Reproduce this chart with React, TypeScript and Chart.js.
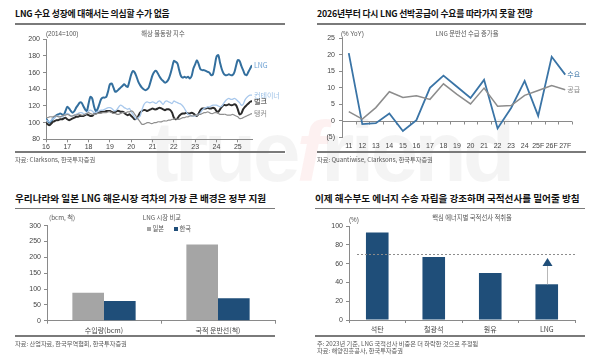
import React, { useEffect, useRef } from "react";
import { Chart, registerables } from "chart.js";
Chart.register(...registerables);

// ---------- Panel 1: 해상 물동량 지수 (monthly, Jan 2016 - Sep 2025) ----------
const YEAR_LABELS = ["16", "17", "18", "19", "20", "21", "22", "23", "24", "25"];
const LNG_IDX = [
  105, 102, 100, 102, 105, 107, 109, 110, 111, 110, 109, 114,
  119, 117, 114, 112, 114, 118, 121, 124, 124, 120, 116, 114,
  123, 131, 129, 120, 114, 116, 122, 128, 130, 130, 131, 138,
  146, 147, 142, 137, 138, 140, 142, 144, 146, 144, 143, 150,
  158, 162, 160, 155, 149, 145, 142, 140, 139, 140, 143, 150,
  157, 161, 162, 159, 155, 152, 150, 148, 149, 152, 158, 166,
  174, 173, 171, 163, 156, 154, 155, 154, 155, 153, 156, 165,
  170, 175, 170, 164, 163, 163, 162, 161, 160, 157, 158, 168,
  179, 181, 172, 164, 159, 157, 157, 158, 157, 157, 160, 168,
  175, 174, 168, 163, 158, 157, 161, 165, 169,
];
const CONTAINER_IDX = [
  103, 102, 101, 103, 105, 106, 108, 108, 107, 107, 108, 110,
  111, 110, 108, 108, 109, 110, 111, 112, 112, 111, 110, 112,
  114, 115, 114, 112, 112, 113, 114, 115, 115, 116, 117, 118,
  118, 117, 115, 114, 116, 119, 121, 120, 118, 117, 116, 117,
  113, 110, 106, 104, 106, 108, 115, 121, 124, 125, 124, 124,
  125, 124, 123, 125, 126, 124, 122, 125, 126, 125, 124, 123,
  126, 125, 124, 123, 122, 120, 117, 113, 110, 109, 108, 108,
  108, 109, 110, 112, 115, 117, 118, 119, 119, 120, 121, 121,
  121, 120, 119, 120, 123, 126, 128, 129, 128, 128, 129, 128,
  126, 124, 121, 122, 127, 130, 132, 133, 133,
];
const BULK_IDX = [
  100, 98, 97, 99, 101, 102, 103, 103, 104, 104, 105, 106,
  104, 103, 104, 105, 106, 107, 107, 108, 108, 108, 109, 110,
  109, 108, 108, 110, 111, 112, 113, 113, 113, 113, 114, 114,
  114, 113, 112, 113, 114, 114, 113, 113, 112, 110, 109, 110,
  108, 106, 104, 105, 108, 112, 114, 115, 115, 114, 115, 116,
  117, 116, 116, 117, 118, 117, 116, 115, 116, 116, 115, 112,
  106, 104, 105, 108, 110, 111, 111, 112, 111, 111, 112, 111,
  109, 108, 111, 115, 117, 117, 117, 118, 117, 117, 118, 117,
  114, 113, 116, 119, 121, 121, 121, 122, 121, 121, 122, 121,
  116, 110, 111, 116, 119, 121, 123, 125, 126,
];
const TANKER_IDX = [
  106, 106, 107, 107, 107, 108, 108, 107, 107, 108, 109, 109,
  110, 109, 108, 108, 109, 109, 110, 110, 109, 109, 110, 111,
  112, 111, 110, 110, 110, 111, 111, 111, 112, 112, 112, 113,
  113, 112, 111, 111, 110, 110, 111, 112, 112, 112, 113, 113,
  114, 113, 110, 107, 104, 101, 98, 98, 99, 100, 100, 99,
  99, 100, 100, 101, 101, 101, 102, 102, 102, 103, 103, 104,
  104, 105, 104, 104, 105, 106, 106, 107, 107, 108, 108, 108,
  109, 109, 110, 110, 111, 112, 112, 113, 112, 111, 111, 112,
  112, 111, 110, 110, 110, 110, 109, 109, 109, 110, 109, 108,
  107, 105, 105, 106, 107, 108, 109, 110, 111,
];
const SERIES1_NAMES = ["탱커", "컨테이너", "벌크", "LNG"];

// ---------- Panel 2: LNG 운반선 수급 증가율 ----------
const YEARS2 = ["11", "12", "13", "14", "15", "16", "17", "18", "19", "20", "21", "22", "23", "24", "25F", "26F", "27F"];
const DEMAND = [20.5, -1, -0.7, 2.2, -3.1, 0.2, 10, 13.7, 10.3, 6.9, 12.4, -2.3, 3.9, 12.1, 1.5, 19.4, 14];
const SUPPLY = [2.8, 0.5, 4, 8.8, 7.1, 7.6, 6.5, 11.2, 8, 5.1, 9.9, 4.4, 4.6, 7.7, 9.2, 10.7, 9.4];
const SERIES2_NAMES = ["수요", "공급"];

// ---------- Panel 3: LNG 시장 비교 ----------
const CATS3 = ["수입량(bcm)", "국적 운반선(척)"];
const JAPAN = [88, 241];
const KOREA = [62, 71];

// ---------- Panel 4: 핵심 에너지별 국적선사 적취율 ----------
const CATS4 = ["석탄", "철광석", "원유", "LNG"];
const SHARE = [93, 67, 50, 38];
const TARGET_LINE = 70;
const ARROW_TIP = 66;

const LATIN = "'Liberation Sans', 'Noto Sans CJK KR', sans-serif";
const KFONT = "'Noto Sans CJK KR', 'Liberation Sans', sans-serif";
const AXIS_GRAY = "#8a8a8a";
const TICK_COLOR = "#444";
const NAVY = "#1f4e79";

const endLabels = {
  id: "endLabels",
  afterDatasetsDraw(chart: any) {
    const ctx = chart.ctx;
    chart.data.datasets.forEach((ds: any, i: number) => {
      if (!ds.endLabel) return;
      const meta = chart.getDatasetMeta(i);
      const pt = meta.data[meta.data.length - 1];
      ctx.save();
      ctx.font = `7px ${KFONT}`;
      ctx.fillStyle = ds.endLabelColor;
      ctx.textBaseline = "middle";
      ctx.textAlign = "left";
      ctx.fillText(ds.endLabel, pt.x + (ds.endLabelDx || 2), pt.y + (ds.endLabelDy || 0));
      ctx.restore();
    });
  },
};

const zeroAxis = {
  id: "zeroAxis",
  beforeDatasetsDraw(chart: any) {
    const { ctx, chartArea, scales } = chart;
    const y0 = scales.y.getPixelForValue(0);
    const xs = scales.x;
    const n = chart.data.labels.length;
    const step = n > 1 ? xs.getPixelForValue(1) - xs.getPixelForValue(0) : 0;
    ctx.save();
    ctx.strokeStyle = AXIS_GRAY;
    ctx.lineWidth = 1;
    ctx.beginPath();
    ctx.moveTo(chartArea.left, Math.round(y0) + 0.5);
    ctx.lineTo(chartArea.right, Math.round(y0) + 0.5);
    for (let i = 0; i <= n; i++) {
      const x = Math.round(xs.getPixelForValue(0) - step / 2 + i * step) + 0.5;
      ctx.moveTo(x, Math.round(y0) + 0.5);
      ctx.lineTo(x, Math.round(y0) + 3.5);
    }
    ctx.stroke();
    ctx.restore();
  },
};

const targetMarks = {
  id: "targetMarks",
  afterDatasetsDraw(chart: any) {
    const { ctx, chartArea, scales } = chart;
    const y = scales.y;
    const x = scales.x;
    const yT = Math.round(y.getPixelForValue(TARGET_LINE)) + 0.5;
    ctx.save();
    ctx.strokeStyle = "#8c8c8c";
    ctx.lineWidth = 1;
    ctx.setLineDash([2, 2]);
    ctx.beginPath();
    ctx.moveTo(chartArea.left + 8, yT);
    ctx.lineTo(chartArea.right, yT);
    ctx.stroke();
    ctx.setLineDash([]);
    const last = SHARE.length - 1;
    const cx = Math.round(x.getPixelForValue(last)) + 0.5;
    const yBar = y.getPixelForValue(SHARE[last]);
    const yTip = y.getPixelForValue(ARROW_TIP);
    const headH = 8;
    ctx.strokeStyle = "#b8b8b8";
    ctx.beginPath();
    ctx.moveTo(cx, yBar);
    ctx.lineTo(cx, yTip + headH);
    ctx.stroke();
    ctx.fillStyle = NAVY;
    ctx.beginPath();
    ctx.moveTo(cx, yTip);
    ctx.lineTo(cx - 5, yTip + headH);
    ctx.lineTo(cx + 5, yTip + headH);
    ctx.closePath();
    ctx.fill();
    ctx.restore();
  },
};

function tickFont() {
  return { family: LATIN, size: 7 };
}

function makeChart1(): any {
  const mk = (vals: number[]) => vals.map((v, i) => ({ x: i, y: v }));
  const last = LNG_IDX.length - 1;
  return {
    type: "line",
    data: {
      datasets: [
        { label: SERIES1_NAMES[0], data: mk(TANKER_IDX), borderColor: "#8f8f8f", borderWidth: 1.2, endLabel: SERIES1_NAMES[0], endLabelColor: "#8a8a8a", endLabelDx: 2 },
        { label: SERIES1_NAMES[1], data: mk(CONTAINER_IDX), borderColor: "#a8c8ec", borderWidth: 1.3, endLabel: SERIES1_NAMES[1], endLabelColor: "#9cc0e6", endLabelDx: 2 },
        { label: SERIES1_NAMES[2], data: mk(BULK_IDX), borderColor: "#2b2b2b", borderWidth: 2, endLabel: SERIES1_NAMES[2], endLabelColor: "#222", endLabelDx: 2 },
        { label: SERIES1_NAMES[3], data: mk(LNG_IDX), borderColor: "#336f9e", borderWidth: 2, endLabel: SERIES1_NAMES[3], endLabelColor: "#6a9fd2", endLabelDx: 2 },
      ].map((d) => ({ ...d, pointRadius: 0, tension: 0.3, fill: false })),
    },
    options: {
      animation: false,
      responsive: false,
      devicePixelRatio: 1,
      layout: { padding: { top: 9.3, right: 33, left: 0, bottom: 0 } },
      plugins: { legend: { display: false }, tooltip: { enabled: false } },
      scales: {
        x: {
          type: "linear",
          min: 0,
          max: last,
          ticks: {
            stepSize: 12,
            includeBounds: false,
            autoSkip: false,
            maxRotation: 0,
            padding: 1,
            color: TICK_COLOR,
            font: tickFont(),
            callback: (v: number) => YEAR_LABELS[Math.round(v / 12)] ?? "",
          },
          grid: { drawOnChartArea: false, tickLength: 3, color: AXIS_GRAY },
          border: { color: AXIS_GRAY },
          afterFit: (s: any) => { s.height = 12.7; },
        },
        y: {
          min: 80,
          max: 200,
          ticks: { stepSize: 20, padding: 3, color: TICK_COLOR, font: tickFont() },
          grid: { drawOnChartArea: false, tickLength: 3, color: AXIS_GRAY },
          border: { color: AXIS_GRAY },
          afterFit: (s: any) => { s.width = 33; },
        },
      },
    },
    plugins: [endLabels],
  };
}

function makeChart2(): any {
  return {
    type: "line",
    data: {
      labels: YEARS2,
      datasets: [
        { label: SERIES2_NAMES[1], data: SUPPLY, borderColor: "#8c8c8c", borderWidth: 1.5, endLabel: SERIES2_NAMES[1], endLabelColor: "#8a8a8a", endLabelDx: 2 },
        { label: SERIES2_NAMES[0], data: DEMAND, borderColor: "#3a74a6", borderWidth: 1.8, endLabel: SERIES2_NAMES[0], endLabelColor: "#3a74a6", endLabelDx: 2 },
      ].map((d) => ({ ...d, pointRadius: 0, tension: 0, fill: false })),
    },
    options: {
      animation: false,
      responsive: false,
      devicePixelRatio: 1,
      layout: { padding: { top: 10.3, right: 13, left: 0, bottom: 0 } },
      plugins: { legend: { display: false }, tooltip: { enabled: false } },
      scales: {
        x: {
          offset: true,
          ticks: { autoSkip: false, maxRotation: 0, padding: 5, color: TICK_COLOR, font: tickFont() },
          grid: { display: false, drawTicks: false },
          border: { display: false },
          afterFit: (s: any) => { s.height = 14.7; },
        },
        y: {
          min: -5,
          max: 25,
          ticks: {
            stepSize: 5,
            padding: 4,
            color: TICK_COLOR,
            font: tickFont(),
            callback: (v: number) => (v < 0 ? `(${-v})` : `${v}`),
          },
          grid: { drawOnChartArea: false, tickLength: 3, color: AXIS_GRAY },
          border: { color: AXIS_GRAY },
          afterFit: (s: any) => { s.width = 29; },
        },
      },
    },
    plugins: [zeroAxis, endLabels],
  };
}

function makeChart3(): any {
  return {
    type: "bar",
    data: {
      labels: CATS3,
      datasets: [
        { label: "일본", data: JAPAN, backgroundColor: "#a5a5a5" },
        { label: "한국", data: KOREA, backgroundColor: NAVY },
      ].map((d) => ({ ...d, barPercentage: 1, categoryPercentage: 0.555, borderWidth: 0 })),
    },
    options: {
      animation: false,
      responsive: false,
      devicePixelRatio: 1,
      layout: { padding: { top: 15.7, right: 10, left: 0, bottom: 0 } },
      plugins: { legend: { display: false }, tooltip: { enabled: false } },
      scales: {
        x: {
          ticks: { autoSkip: false, maxRotation: 0, padding: 2, color: TICK_COLOR, font: { family: KFONT, size: 7 } },
          grid: { drawOnChartArea: false, tickLength: 3, color: AXIS_GRAY, offset: true },
          border: { color: AXIS_GRAY },
          afterFit: (s: any) => { s.height = 15.3; },
        },
        y: {
          min: 0,
          max: 300,
          ticks: { stepSize: 50, padding: 3, color: TICK_COLOR, font: tickFont() },
          grid: { drawOnChartArea: false, tickLength: 3, color: AXIS_GRAY },
          border: { color: AXIS_GRAY },
          afterFit: (s: any) => { s.width = 34; },
        },
      },
    },
  };
}

function makeChart4(): any {
  return {
    type: "bar",
    data: {
      labels: CATS4,
      datasets: [
        { label: "적취율", data: SHARE, backgroundColor: NAVY, barPercentage: 0.4, categoryPercentage: 1, borderWidth: 0 },
      ],
    },
    options: {
      animation: false,
      responsive: false,
      devicePixelRatio: 1,
      layout: { padding: { top: 16, right: 10, left: 0, bottom: 0 } },
      plugins: { legend: { display: false }, tooltip: { enabled: false } },
      scales: {
        x: {
          ticks: { autoSkip: false, maxRotation: 0, padding: 2, color: TICK_COLOR, font: { family: KFONT, size: 7 } },
          grid: { drawOnChartArea: false, tickLength: 3, color: AXIS_GRAY, offset: true },
          border: { color: AXIS_GRAY },
          afterFit: (s: any) => { s.height = 16; },
        },
        y: {
          min: 0,
          max: 100,
          ticks: { stepSize: 10, padding: 3, color: TICK_COLOR, font: tickFont() },
          grid: { drawOnChartArea: false, tickLength: 3, color: AXIS_GRAY },
          border: { color: AXIS_GRAY },
          afterFit: (s: any) => { s.width = 36; },
        },
      },
    },
    plugins: [targetMarks],
  };
}

function ChartBox({ left, top, width, height, make }: { left: number; top: number; width: number; height: number; make: () => any }) {
  const ref = useRef<HTMLCanvasElement | null>(null);
  useEffect(() => {
    const chart = new Chart(ref.current as HTMLCanvasElement, make());
    return () => chart.destroy();
  }, []);
  return (
    <canvas
      ref={ref}
      width={width}
      height={height}
      style={{ position: "absolute", left, top, width, height, zIndex: 2 }}
    />
  );
}

function Txt({ x, y, children, size = 6.5, color = "#555", bold = false, center = false, font = KFONT, ls = 0 }: any) {
  return (
    <div
      style={{
        position: "absolute",
        left: x,
        top: y,
        fontSize: size,
        fontWeight: bold ? 700 : 400,
        color,
        fontFamily: font,
        whiteSpace: "nowrap",
        lineHeight: 1,
        letterSpacing: ls,
        transform: center ? "translate(-50%, -50%)" : "translateY(-50%)",
        zIndex: 3,
      }}
    >
      {children}
    </div>
  );
}

function Rule({ x1, x2, y, color = "#7a7a7a", w = 1.3 }: any) {
  return <div style={{ position: "absolute", left: x1, top: y - w / 2, width: x2 - x1, height: w, background: color, zIndex: 3 }} />;
}

function Swatch({ x, y, color }: any) {
  return <div style={{ position: "absolute", left: x, top: y - 2, width: 4, height: 4, background: color, zIndex: 3 }} />;
}

export default function App() {
  return (
    <div style={{ position: "absolute", left: 0, top: 0, width: 600, height: 355, background: "#fff", overflow: "hidden" }}>
      {/* faint watermark */}
      <div style={{ position: "absolute", left: 150, top: 108, fontFamily: "'Liberation Sans', sans-serif", fontSize: 86, fontWeight: 700, color: "rgba(0,0,0,0.045)", letterSpacing: -4, lineHeight: 1, zIndex: 1, whiteSpace: "nowrap" }}>
        true<span style={{ color: "rgba(220,60,60,0.07)", fontStyle: "italic" }}>f</span>riend
      </div>

      {/* Panel 1 */}
      <Txt x={15} y={13.5} size={8.8} bold color="#111" ls={-0.2}>LNG 수요 성장에 대해서는 의심할 수가 없음</Txt>
      <Rule x1={15} x2={285} y={24} />
      <Txt x={46} y={34} size={6.3} color="#555" font={LATIN}>(2014=100)</Txt>
      <Txt x={163} y={34} size={6.3} color="#555" center>해상 물동량 지수</Txt>
      <ChartBox left={13} top={30} width={272} height={122} make={makeChart1} />
      <Rule x1={15} x2={285} y={152} />
      <Txt x={15} y={159.5} size={6.2} color="#555">자료: Clarksons, 한국투자증권</Txt>

      {/* Panel 2 */}
      <Txt x={317} y={13.5} size={8.8} bold color="#111" ls={-0.2}>2026년부터 다시 LNG 선박공급이 수요를 따라가지 못할 전망</Txt>
      <Rule x1={317} x2={586} y={24} />
      <Txt x={341} y={33.5} size={6.3} color="#555" font={LATIN}>(% YoY)</Txt>
      <Txt x={467} y={33.5} size={6.3} color="#555" center>LNG 운반선 수급 증가율</Txt>
      <ChartBox left={313} top={28} width={272} height={124} make={makeChart2} />
      <Rule x1={317} x2={586} y={152} />
      <Txt x={317} y={160} size={6.2} color="#555">자료: Quantiwise, Clarksons, 한국투자증권</Txt>

      {/* Panel 3 */}
      <Txt x={15} y={199} size={9.6} bold color="#111">우리나라와 일본 LNG 해운시장 격차의 가장 큰 배경은 정부 지원</Txt>
      <Rule x1={15} x2={275} y={208.5} />
      <Txt x={49} y={218.3} size={6.3} color="#555">(bcm, 척)</Txt>
      <Txt x={162} y={218.3} size={6.3} color="#555" center>LNG 시장 비교</Txt>
      <Swatch x={147} y={228.5} color="#a5a5a5" />
      <Txt x={152.5} y={228.5} size={6.3} color="#555">일본</Txt>
      <Swatch x={174} y={228.5} color={NAVY} />
      <Txt x={179.5} y={228.5} size={6.3} color="#555">한국</Txt>
      <ChartBox left={13} top={210} width={272} height={126} make={makeChart3} />
      <Rule x1={15} x2={275} y={336} />
      <Txt x={15} y={344.3} size={6.2} color="#555">자료: 산업자료, 한국무역협회, 한국투자증권</Txt>

      {/* Panel 4 */}
      <Txt x={315} y={199} size={9.6} bold color="#111">이제 해수부도 에너지 수송 자립을 강조하며 국적선사를 밀어줄 방침</Txt>
      <Rule x1={315} x2={585} y={208.5} />
      <Txt x={349} y={219.5} size={6.3} color="#555" font={LATIN}>(%)</Txt>
      <Txt x={472} y={217.7} size={6.3} color="#555" center>핵심 에너지별 국적선사 적취율</Txt>
      <ChartBox left={313} top={210} width={272} height={126} make={makeChart4} />
      <Rule x1={315} x2={585} y={336} />
      <Txt x={317} y={344.3} size={6.2} color="#555">주: 2023년 기준, LNG 국적선사 비중은 더 하락한 것으로 추정됨</Txt>
      <Txt x={317} y={350.8} size={6.2} color="#555">자료: 해양진흥공사, 한국투자증권</Txt>
    </div>
  );
}
